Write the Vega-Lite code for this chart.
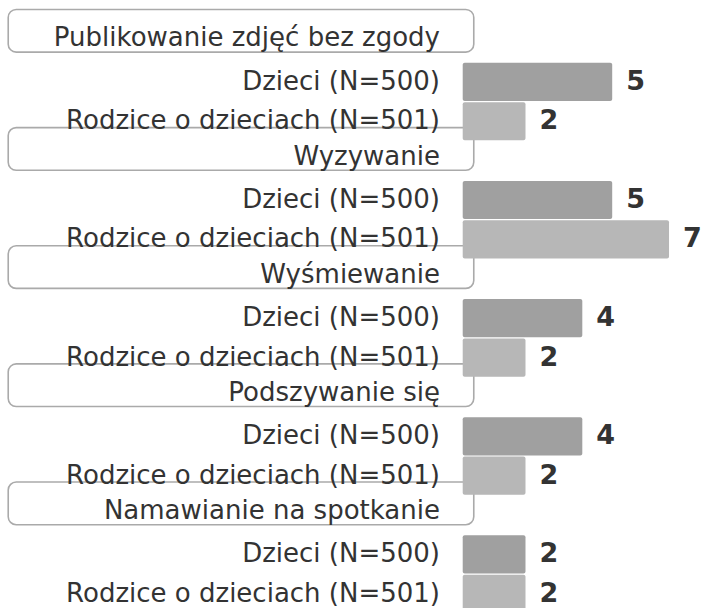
{
  "$schema": "https://vega.github.io/schema/vega-lite/v6.json",
  "width": 704,
  "height": 608,
  "padding": 0,
  "autosize": "none",
  "background": "white",
  "config": {"view": {"stroke": null}, "font": "DejaVu Sans"},
  "data": {
    "values": [
      {"id": "g1|h", "kind": "header", "text": "Publikowanie zdjęć bez zgody"},
      {"id": "g1|d", "kind": "bar", "text": "Dzieci (N=500)", "series": "Dzieci (N=500)", "value": 5.0},
      {"id": "g1|r", "kind": "bar", "text": "Rodzice o dzieciach (N=501)", "series": "Rodzice o dzieciach (N=501)", "value": 2.1},
      {"id": "g2|h", "kind": "header", "text": "Wyzywanie"},
      {"id": "g2|d", "kind": "bar", "text": "Dzieci (N=500)", "series": "Dzieci (N=500)", "value": 5.0},
      {"id": "g2|r", "kind": "bar", "text": "Rodzice o dzieciach (N=501)", "series": "Rodzice o dzieciach (N=501)", "value": 6.9},
      {"id": "g3|h", "kind": "header", "text": "Wyśmiewanie"},
      {"id": "g3|d", "kind": "bar", "text": "Dzieci (N=500)", "series": "Dzieci (N=500)", "value": 4.0},
      {"id": "g3|r", "kind": "bar", "text": "Rodzice o dzieciach (N=501)", "series": "Rodzice o dzieciach (N=501)", "value": 2.1},
      {"id": "g4|h", "kind": "header", "text": "Podszywanie się"},
      {"id": "g4|d", "kind": "bar", "text": "Dzieci (N=500)", "series": "Dzieci (N=500)", "value": 4.0},
      {"id": "g4|r", "kind": "bar", "text": "Rodzice o dzieciach (N=501)", "series": "Rodzice o dzieciach (N=501)", "value": 2.1},
      {"id": "g5|h", "kind": "header", "text": "Namawianie na spotkanie"},
      {"id": "g5|d", "kind": "bar", "text": "Dzieci (N=500)", "series": "Dzieci (N=500)", "value": 2.1},
      {"id": "g5|r", "kind": "bar", "text": "Rodzice o dzieciach (N=501)", "series": "Rodzice o dzieciach (N=501)", "value": 2.1}
    ]
  },
  "encoding": {
    "y": {
      "field": "id",
      "type": "nominal",
      "scale": {
        "domain": ["g1|h", "g1|d", "g1|r", "g2|h", "g2|d", "g2|r", "g3|h", "g3|d", "g3|r", "g4|h", "g4|d", "g4|r", "g5|h", "g5|d", "g5|r"],
        "range": [23.4, 612.9],
        "paddingInner": 0.03,
        "paddingOuter": 0
      },
      "axis": null
    }
  },
  "layer": [
    {
      "transform": [{"filter": "datum.kind === 'header'"}],
      "mark": {"type": "rect", "fill": "transparent", "stroke": "#aaaaaa", "strokeWidth": 1.6, "cornerRadius": 8, "height": 42.7, "yOffset": -11.7},
      "encoding": {
        "x": {"datum": -15.2, "type": "quantitative", "scale": {"domain": [-15.475, 8.07], "nice": false, "zero": false}, "axis": null},
        "x2": {"datum": 0.37}
      }
    },
    {
      "transform": [{"filter": "datum.kind === 'bar'"}],
      "mark": {"type": "bar", "cornerRadius": 2},
      "encoding": {
        "x": {"field": "value", "type": "quantitative", "scale": {"domain": [-15.475, 8.07], "nice": false, "zero": false}, "axis": null},
        "x2": {"datum": 0},
        "color": {"field": "series", "type": "nominal", "scale": {"domain": ["Dzieci (N=500)", "Rodzice o dzieciach (N=501)"], "range": ["#a0a0a0", "#b7b7b7"]}, "legend": null}
      }
    },
    {
      "transform": [{"filter": "datum.kind === 'bar'"}],
      "mark": {"type": "text", "align": "right", "baseline": "middle", "dx": -22.7, "fontSize": 26, "color": "#333333"},
      "encoding": {
        "x": {"datum": 0, "type": "quantitative"},
        "text": {"field": "text"}
      }
    },
    {
      "transform": [{"filter": "datum.kind === 'header'"}],
      "mark": {"type": "text", "align": "right", "baseline": "alphabetic", "dx": -22.7, "dy": 4, "fontSize": 26, "color": "#333333"},
      "encoding": {
        "x": {"datum": 0, "type": "quantitative"},
        "text": {"field": "text"}
      }
    },
    {
      "transform": [{"filter": "datum.kind === 'bar'"}],
      "mark": {"type": "text", "align": "left", "baseline": "middle", "dx": 14, "fontSize": 27, "fontWeight": "bold", "color": "#333333"},
      "encoding": {
        "x": {"field": "value", "type": "quantitative"},
        "text": {"field": "value", "type": "quantitative", "format": ".0f"}
      }
    }
  ]
}
